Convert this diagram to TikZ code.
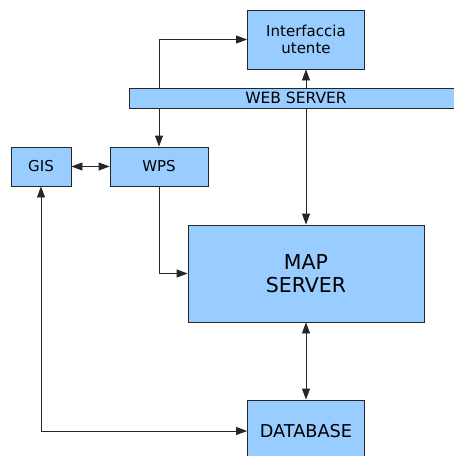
\documentclass[tikz,border=0pt]{standalone}
\usepackage{fontspec}
\setmainfont{DejaVu Sans}
\usepackage{xcolor}
\usetikzlibrary{positioning,arrows.meta}
\definecolor{boxblue}{HTML}{99CCFF}

\begin{document}
\begin{tikzpicture}
[x=1pt, y=-1pt, font=\fontsize{15}{17}\selectfont,
    every node/.style={rectangle, fill=boxblue, draw=black!85,
    line width=0.8pt, align=center, inner sep=0pt},
    link/.style={draw=black!85, line width=0.8pt,
    >={Triangle[length=11pt,width=8pt]}}
    ]
    \useasboundingbox (0,0) rectangle (454,456);

    \node (ui)  [minimum width=117pt, minimum height=59pt] at (306,39.5) {Interfaccia\\utente};
    \node (gis) [minimum width=60pt,  minimum height=39pt] at (41,166.5) {GIS};
    \node (wps) [minimum width=98pt,  minimum height=39pt] at (159,166.5) {WPS};
    \node (map) [minimum width=236pt, minimum height=97pt,
        font=\fontsize{20.5}{23}\selectfont] at (306,273.5) {MAP\\SERVER};
    \node (db)  [minimum width=117pt, minimum height=62pt,
        font=\fontsize{17.7}{20}\selectfont] at (306,431) {DATABASE};

    % the bar is laid over this one
    \draw[link, <->] (wps.north) |- (ui.west);

    \node (web) [minimum width=334pt, minimum height=20pt,
        font=\fontsize{15.5}{17}\selectfont] at (296,98) {WEB SERVER};

    \draw[link, ->] (web.north -| ui.south) -- (ui.south);
    \draw[link, ->] (web.south -| map.north) -- (map.north);
    \draw[link, <->] (gis) -- (wps);
    \draw[link, ->] (wps.south) |- (map.west);
    \draw[link, <->] (map.south) -- (db.north);
    \draw[link, <->] (gis.south) |- (db.west);
\end{tikzpicture}
\end{document}
